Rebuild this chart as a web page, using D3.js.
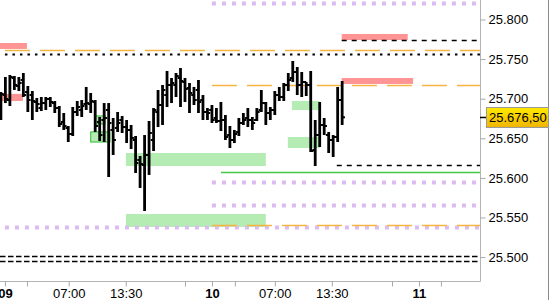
<!DOCTYPE html>
<html>
<head>
<meta charset="utf-8">
<script src="https://cdn.jsdelivr.net/npm/d3@7"></script>
<style>
  body { margin: 0; background: #fff; }
  svg { display: block; font-family: "Liberation Sans", Arial, sans-serif; }
  .axis text { font-size: 13px; fill: #000; }
  .axis line { stroke: #a8a8a8; }
</style>
</head>
<body>
<div id="chart"></div>
<script>
// ohlc, one entry per bar
var opens = [
  25685.7, 25704.6, 25698.3, 25726.1, 25716.0, 25723.6, 25708.4, 25704.6, 25695.8, 25688.2,
  25694.5, 25699.6, 25694.5, 25688.2, 25670.6, 25663.0, 25655.4, 25683.2, 25685.7, 25693.3,
  25693.3, 25695.8, 25670.6, 25673.1, 25685.7, 25660.5, 25663.0, 25673.1, 25664.2, 25660.5,
  25647.8, 25622.6, 25616.3, 25628.9, 25647.8, 25683.2, 25692.0, 25704.6, 25717.3, 25717.3,
  25726.1, 25721.1, 25713.5, 25704.6, 25711.0, 25698.3, 25683.2, 25685.7, 25675.6, 25671.8,
  25673.1, 25654.1, 25647.8, 25657.9, 25669.3, 25675.6, 25673.1, 25673.1, 25685.7, 25694.5,
  25681.9, 25685.7, 25704.6, 25702.1, 25717.3, 25726.1, 25733.7, 25717.3, 25721.1, 25717.3,
  25635.2, 25654.1, 25666.8, 25654.1, 25647.8, 25651.6, 25698.3];
var highs = [
  25708.4, 25727.4, 25729.9, 25728.6, 25727.4, 25732.4, 25716.0, 25709.7, 25700.9, 25702.1,
  25702.1, 25702.1, 25697.1, 25690.8, 25681.9, 25665.5, 25689.5, 25697.1, 25698.3, 25714.8,
  25707.2, 25698.3, 25676.9, 25694.5, 25694.5, 25675.6, 25683.2, 25678.1, 25673.1, 25666.8,
  25652.9, 25627.6, 25654.1, 25671.8, 25688.2, 25711.0, 25717.3, 25735.0, 25726.1, 25732.4,
  25738.7, 25726.1, 25719.8, 25714.8, 25723.6, 25704.6, 25688.2, 25692.0, 25688.2, 25695.8,
  25679.4, 25665.5, 25660.5, 25675.6, 25681.9, 25688.2, 25676.9, 25688.2, 25711.0, 25695.8,
  25689.5, 25709.7, 25714.8, 25719.8, 25732.4, 25747.6, 25740.0, 25733.7, 25721.1, 25735.0,
  25673.1, 25695.8, 25675.6, 25657.9, 25654.1, 25714.8, 25722.3];
var lows = [
  25673.1, 25694.5, 25690.8, 25711.0, 25709.7, 25702.1, 25683.2, 25673.1, 25683.2, 25684.4,
  25685.7, 25689.5, 25681.9, 25664.2, 25660.5, 25645.3, 25652.9, 25678.1, 25676.9, 25685.7,
  25681.9, 25657.9, 25646.6, 25645.3, 25601.1, 25628.9, 25657.9, 25656.7, 25644.0, 25636.5,
  25606.2, 25587.3, 25558.2, 25603.7, 25633.9, 25664.2, 25666.8, 25689.5, 25694.5, 25702.1,
  25689.5, 25695.8, 25681.9, 25692.0, 25681.9, 25673.1, 25673.1, 25669.3, 25669.3, 25659.2,
  25647.8, 25637.7, 25644.0, 25652.9, 25666.8, 25664.2, 25660.5, 25671.8, 25683.2, 25666.8,
  25673.1, 25679.4, 25697.1, 25697.1, 25709.7, 25721.1, 25704.6, 25702.1, 25703.4, 25632.7,
  25615.0, 25639.0, 25654.1, 25631.4, 25626.4, 25645.3, 25666.8];
var closes = [
  25705.9, 25699.6, 25727.4, 25717.3, 25719.8, 25704.6, 25698.3, 25697.1, 25693.3, 25694.5,
  25699.6, 25695.8, 25688.2, 25668.0, 25665.5, 25655.4, 25683.2, 25689.5, 25690.8, 25694.5,
  25697.1, 25665.5, 25654.1, 25675.6, 25669.3, 25647.8, 25669.3, 25664.2, 25660.5, 25650.4,
  25618.8, 25617.5, 25628.9, 25656.7, 25685.7, 25692.0, 25711.0, 25717.3, 25719.8, 25728.6,
  25722.3, 25712.2, 25707.2, 25698.3, 25695.8, 25683.2, 25681.9, 25673.1, 25671.8, 25673.1,
  25651.6, 25647.8, 25655.4, 25669.3, 25673.1, 25673.1, 25669.3, 25683.2, 25694.5, 25681.9,
  25685.7, 25704.6, 25702.1, 25717.3, 25723.6, 25733.7, 25717.3, 25721.1, 25717.3, 25633.9,
  25654.1, 25666.8, 25665.5, 25647.8, 25651.6, 25698.3, 25676.5];

var lastPrice = 25676.5;

var priceTicks = [25500, 25550, 25600, 25650, 25700, 25750, 25800];
// x ticks in bar units
var timeTicks = [0.9, 5.8, 15.1, 27.8, 41.0, 47.0, 52.1, 61.0, 73.7, 87.1, 93.1, 98.0];
var timeLabels = ["09", "", "07:00", "13:30", "", "10", "", "07:00", "13:30", "", "11", ""];
var dayLabels = ["09", "10", "11"];

// horizontal levels: price, first bar, kind
var levelPrices = [25820.8, 25594.8, 25565.8, 25538.0, 25761.5, 25716.9, 25540.2, 25756.0, 25773.7, 25616.3, 25501.4, 25495.1, 25607.1];
var levelStart  = [47, 47, 47, 0.9, 0.9, 47, 47, 0.9, 75.9, 74.8, -0.2, -0.2, 49];
var levelKind   = ["lilac", "lilac", "lilac", "lilac", "orange", "orange", "orange", "dots", "dash", "dash", "dash2", "dash2", "green"];

// zones: from bar, to bar, low, high, kind
var zoneFrom = [27.84, 27.84, 64.8, 63.9, 20.9, 20.0, -0.2, 0.2, 75.9, 75.9];
var zoneTo   = [59.0, 59.0, 71.0, 71.0, 23.2, 24.3, 5.8, 4.9, 90.6, 91.8];
var zoneLow  = [25615.0, 25538.0, 25685.7, 25637.7, 25668.1, 25645.3, 25762.8, 25697.1, 25774.1, 25718.6];
var zoneHigh = [25631.4, 25554.4, 25697.1, 25651.6, 25678.2, 25658.0, 25770.3, 25706.0, 25781.7, 25726.1];
var zoneKind = ["green", "green", "green", "green", "boxed", "boxed", "red", "red", "red", "red"];

var width = 550, height = 300;
var plotW = 480, plotH = 281;

var de = d3.formatLocale({decimal: ",", thousands: ".", grouping: [3], currency: ["", "€"]});
var fmtAxis = de.format(",.0f");
var fmtPrice = de.format(",.2f");

var x = d3.scaleLinear().domain([-0.2, 106.7]).range([0, plotW]);
var y = d3.scaleLinear().domain([25469.8, 25824.6]).range([plotH, 0]);

var svg = d3.select("#chart").append("svg")
  .attr("width", width).attr("height", height);

var defs = svg.append("defs");
defs.append("clipPath").attr("id", "clip")
  .append("rect").attr("width", plotW).attr("height", plotH);
var grad = defs.append("linearGradient").attr("id", "gold")
  .attr("x1", 0).attr("y1", 0).attr("x2", 0).attr("y2", 1);
grad.append("stop").attr("offset", "0%").attr("stop-color", "#ffea00");
grad.append("stop").attr("offset", "100%").attr("stop-color", "#f0b400");

var plot = svg.append("g").attr("clip-path", "url(#clip)");

var zoneFill = {green: "#b4ecb4", boxed: "#b4ecb4", red: "#ff9494"};
plot.selectAll("rect.zone")
  .data(d3.range(zoneKind.length))
  .enter().append("rect")
  .attr("class", "zone")
  .attr("x", function(i) { return x(zoneFrom[i]); })
  .attr("width", function(i) { return x(zoneTo[i]) - x(zoneFrom[i]); })
  .attr("y", function(i) { return y(zoneHigh[i]); })
  .attr("height", function(i) { return y(zoneLow[i]) - y(zoneHigh[i]); })
  .attr("fill", function(i) { return zoneFill[zoneKind[i]]; })
  .attr("stroke", function(i) { return zoneKind[i] == "boxed" ? "#4cc44c" : "none"; })
  .attr("stroke-width", 1.2);

var lineStyle = {
  lilac:  {color: "#dcbcf0", w: 4,   dash: "4,6"},
  orange: {color: "#f5b540", w: 1.5, dash: "25,10"},
  dots:   {color: "#000",    w: 2,   dash: "2.5,5"},
  dash:   {color: "#000",    w: 1.3, dash: "5,5"},
  dash2:  {color: "#000",    w: 1.3, dash: "5.5,2.5"},
  green:  {color: "#44c844", w: 1.5, dash: null}
};
plot.selectAll("line.level")
  .data(d3.range(levelPrices.length))
  .enter().append("line")
  .attr("class", "level")
  .attr("x1", function(i) { return x(levelStart[i]); })
  .attr("x2", plotW)
  .attr("y1", function(i) { return Math.round(y(levelPrices[i])) + 0.5; })
  .attr("y2", function(i) { return Math.round(y(levelPrices[i])) + 0.5; })
  .attr("stroke", function(i) { return lineStyle[levelKind[i]].color; })
  .attr("stroke-width", function(i) { return lineStyle[levelKind[i]].w; })
  .attr("stroke-dasharray", function(i) { return lineStyle[levelKind[i]].dash; });

// ohlc bars
var bars = plot.selectAll("g.bar")
  .data(d3.range(opens.length))
  .enter().append("g").attr("class", "bar")
  .attr("stroke", "#000");
bars.append("line")
  .attr("x1", function(i) { return x(i); }).attr("x2", function(i) { return x(i); })
  .attr("y1", function(i) { return y(highs[i]); })
  .attr("y2", function(i) { return y(lows[i]); })
  .attr("stroke-width", 2.8);
bars.append("line")
  .attr("x1", function(i) { return x(i) - 2.8; }).attr("x2", function(i) { return x(i); })
  .attr("y1", function(i) { return y(opens[i]); })
  .attr("y2", function(i) { return y(opens[i]); })
  .attr("stroke-width", 2);
bars.append("line")
  .attr("x1", function(i) { return x(i); }).attr("x2", function(i) { return x(i) + 2.8; })
  .attr("y1", function(i) { return y(closes[i]); })
  .attr("y2", function(i) { return y(closes[i]); })
  .attr("stroke-width", 2);

// frame
svg.append("line").attr("x1", 0).attr("x2", plotW + 0.5)
  .attr("y1", plotH + 0.5).attr("y2", plotH + 0.5).attr("stroke", "#b4b4b4");
svg.append("line").attr("x1", plotW + 0.5).attr("x2", plotW + 0.5)
  .attr("y1", 0).attr("y2", plotH + 0.5).attr("stroke", "#b4b4b4");
svg.append("line").attr("x1", 548.5).attr("x2", 548.5)
  .attr("y1", 0).attr("y2", height).attr("stroke", "#8a8a8a");

var yAxis = svg.append("g").attr("class", "axis")
  .attr("transform", "translate(" + (plotW + 0.5) + ",0)")
  .call(d3.axisRight(y).tickValues(priceTicks).tickFormat(fmtAxis).tickSize(5).tickPadding(3));
yAxis.select(".domain").remove();

var xAxis = svg.append("g").attr("class", "axis")
  .attr("transform", "translate(0," + (plotH + 0.5) + ")")
  .call(d3.axisBottom(x).tickValues(timeTicks)
    .tickFormat(function(d, i) { return timeLabels[i]; }).tickSize(5).tickPadding(2));
xAxis.select(".domain").remove();
xAxis.selectAll("text")
  .style("font-weight", function(d, i) { return dayLabels.indexOf(timeLabels[i]) >= 0 ? "bold" : "normal"; });

// last price marker
var py = Math.round(y(lastPrice));
svg.append("line").attr("x1", plotW).attr("x2", plotW + 6)
  .attr("y1", py + 0.5).attr("y2", py + 0.5).attr("stroke", "#000").attr("stroke-width", 1.5);
svg.append("rect")
  .attr("x", plotW + 6.5).attr("y", py - 9.5)
  .attr("width", 62).attr("height", 20)
  .attr("fill", "url(#gold)").attr("stroke", "#9a9a9a");
svg.append("text")
  .attr("x", plotW + 9).attr("y", py + 5)
  .style("font-size", "13px")
  .text(fmtPrice(lastPrice));
</script>
</body>
</html>
